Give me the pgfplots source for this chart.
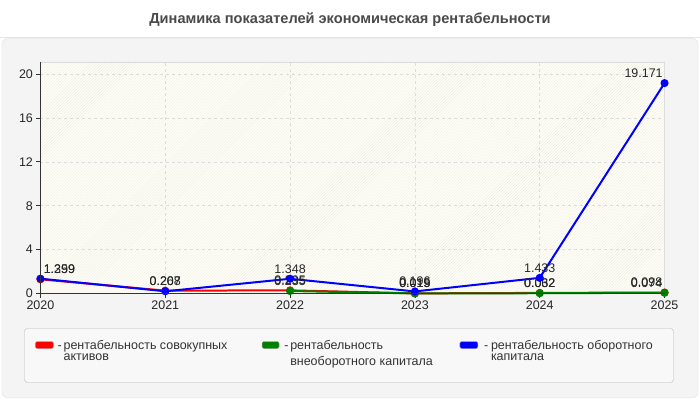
\documentclass[border=0pt]{standalone}
\usepackage{pgfplots}
\pgfplotsset{compat=1.18}
\usepackage{fontspec}
\setmainfont{Liberation Sans}
\usetikzlibrary{patterns}
\definecolor{panel}{HTML}{F4F4F4}
\definecolor{panelborder}{HTML}{E2E2E2}
\definecolor{sepline}{HTML}{E6E6E6}
\definecolor{titlecol}{HTML}{4A4A4A}
\definecolor{ivory}{HTML}{FFFFF8}
\definecolor{hatch}{HTML}{EDEDE6}
\definecolor{gridc}{HTML}{DCDCDC}
\definecolor{axdark}{HTML}{333333}
\definecolor{legfill}{HTML}{F8F8F8}
\definecolor{legborder}{HTML}{B8B8B8}
\definecolor{cred}{HTML}{FF0000}
\definecolor{cgreen}{HTML}{008000}
\definecolor{cblue}{HTML}{0000FF}
\begin{document}
\begin{tikzpicture}[x=1pt,y=1pt]
\fill[white] (0,0) rectangle (700,400);
\fill[panel, draw=panelborder, rounded corners=6pt] (1.5,1.5) rectangle (698.5,361.5);
\draw[sepline, line width=1pt] (0,362) -- (700,362);
\node[font=\bfseries\fontsize{14.6}{16}\selectfont, text=titlecol] at (350,380) {Динамика показателей экономическая рентабельности};
\begin{axis}[
  at={(40pt,106pt)}, anchor=south west, scale only axis,
  width=625pt, height=232pt,
  xmin=2020, xmax=2025, ymin=0, ymax=21.1,
  xtick={2020,2021,2022,2023,2024,2025},
  ytick={0,4,8,12,16,20},
  xtick pos=bottom, ytick pos=left,
  tick align=outside, major tick length=4pt,
  tick style={axdark, line width=0.8pt},
  /pgf/number format/1000 sep={},
  /pgf/number format/assume math mode=true,
  tick label style={font=\fontsize{12.5}{14}\selectfont, text=black!85},
  grid=major, major grid style={dashed, gridc, line width=0.6pt},
  axis line style={gridc, line width=0.8pt},
  axis background/.style={fill=ivory, postaction={pattern=north east lines, pattern color=hatch}},
  clip=false,
  nodes near coords,
  point meta=explicit,
  visualization depends on={value \thisrow{dx} \as \labdx},
  every node near coord/.append style={font=\fontsize{12.5}{14}\selectfont, text=black!85, anchor=south, inner sep=1pt, yshift=3.5pt, xshift=\labdx pt,
    /pgf/number format/fixed, /pgf/number format/fixed zerofill, /pgf/number format/precision=3},
]
\addplot[cred, line width=2pt, mark=*, mark size=3pt] table[meta index=1] {
x y dx
2020 1.299 19
2021 0.267 0
2022 0.295 0
2023 0.019 0
2024 0.062 0
2025 0.098 -18
};
\addplot[cgreen, line width=2pt, mark=*, mark size=3pt] table[meta index=1] {
x y dx
2022 0.235 0
2023 0.015 0
2024 0.032 0
2025 0.074 -18
};
\addplot[cblue, line width=2pt, mark=*, mark size=3pt] table[meta index=1] {
x y dx
2020 1.359 19
2021 0.208 0
2022 1.348 0
2023 0.196 0
2024 1.433 0
2025 19.171 -21
};
\end{axis}
\draw[axdark, line width=0.9pt] (40,338) -- (40,106) -- (665,106);
% legend
\draw[legborder, fill=legfill, rounded corners=3pt] (24,17) rectangle (674,71);
\tikzset{legtxt/.style={anchor=base west, inner sep=0pt, font=\fontsize{12.5}{12}\selectfont, text=black!80}}
\fill[cred, draw=black!40, line width=0.4pt, rounded corners=2pt] (35,51) rectangle (53,58);
\node[legtxt] at (57,50.5) {-};
\node[legtxt] at (63,50.5) {рентабельность совокупных};
\node[legtxt] at (63,38.5) {активов};
\fill[cgreen, draw=black!40, line width=0.4pt, rounded corners=2pt] (262,51) rectangle (279,58);
\node[legtxt] at (284,50.5) {-};
\node[legtxt] at (290,50.5) {рентабельность};
\node[legtxt] at (290,33.5) {внеоборотного капитала};
\fill[cblue, draw=black!40, line width=0.4pt, rounded corners=2pt] (460,51) rectangle (478,58);
\node[legtxt] at (484,50.5) {-};
\node[legtxt] at (491,50.5) {рентабельность оборотного};
\node[legtxt] at (491,38.5) {капитала};
\end{tikzpicture}
\end{document}
